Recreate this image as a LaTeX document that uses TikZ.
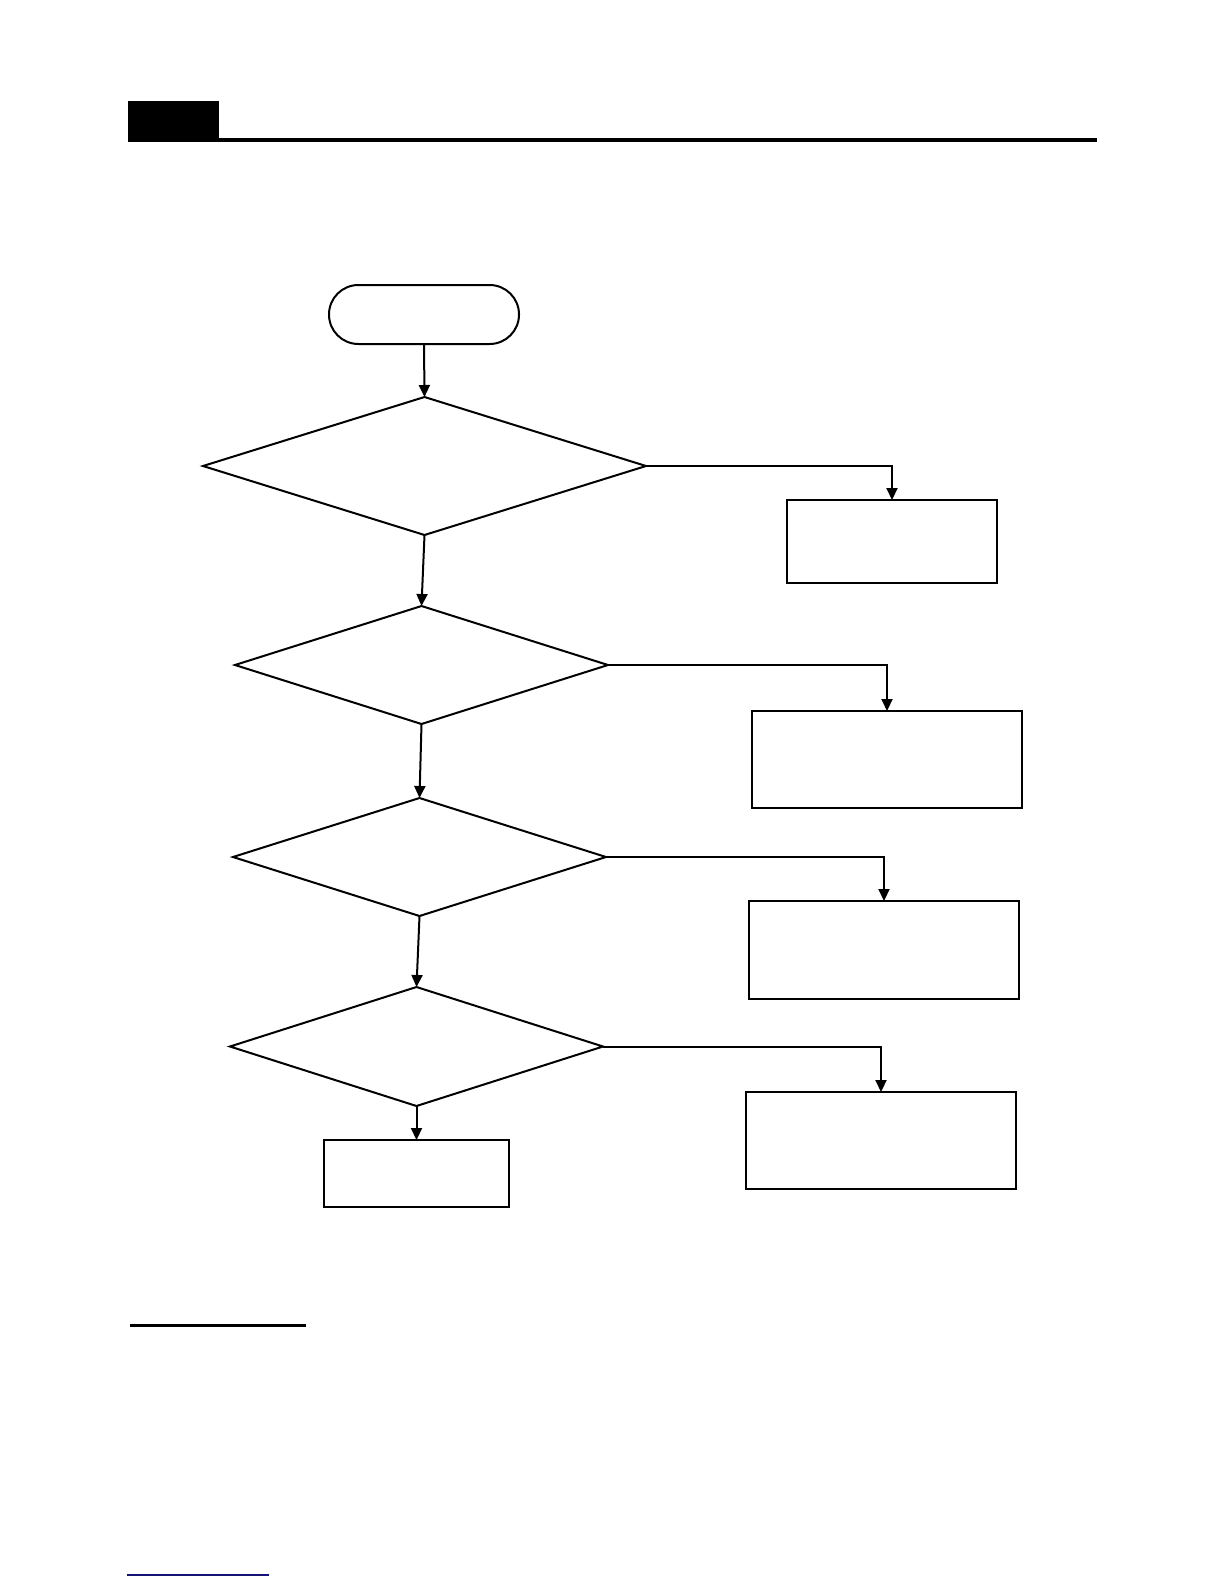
\documentclass[tikz,border=0pt]{standalone}
\usetikzlibrary{shapes.geometric,arrows.meta}
\definecolor{navyline}{RGB}{20,20,120}
\begin{document}
\begin{tikzpicture}[x=0.5pt,y=-0.5pt,
  every node/.style={line width=1pt,draw=black,inner sep=0pt,outer sep=0pt},
  boxnode/.style={rectangle},
  decision/.style={diamond},
  terminal/.style={rectangle,rounded corners=14.7pt},
  flow/.style={line width=1pt,-{Triangle[length=6pt,width=5.5pt]}}]
\useasboundingbox (0,0) rectangle (1224,1584);
% header
\fill[black] (128,101) rectangle (219,142);
\draw[line width=2pt] (219,140) -- (1097,140);
% nodes
\node[terminal,minimum width=95pt,minimum height=29.5pt] (start) at (424,314.5) {};
\node[decision,minimum width=221.5pt,minimum height=69pt] (d1) at (424.5,466) {};
\node[decision,minimum width=186.5pt,minimum height=59pt] (d2) at (421.5,665) {};
\node[decision,minimum width=186.5pt,minimum height=59pt] (d3) at (419.5,857) {};
\node[decision,minimum width=186.5pt,minimum height=59.5pt] (d4) at (416.5,1046.5) {};
\node[boxnode,minimum width=105pt,minimum height=41.5pt] (b1) at (892,541.5) {};
\node[boxnode,minimum width=135pt,minimum height=48.5pt] (b2) at (887,759.5) {};
\node[boxnode,minimum width=135pt,minimum height=49pt] (b3) at (884,950) {};
\node[boxnode,minimum width=135pt,minimum height=48.5pt] (b4) at (881,1140.5) {};
\node[boxnode,minimum width=92.5pt,minimum height=33.5pt] (b5) at (416.5,1173.5) {};
% connectors
\draw[flow] (start.south) -- (d1.north);
\draw[flow] (d1.south) -- (d2.north);
\draw[flow] (d2.south) -- (d3.north);
\draw[flow] (d3.south) -- (d4.north);
\draw[flow] (d4.south) -- (b5.north);
\draw[flow] (d1.east) -| (b1.north);
\draw[flow] (d2.east) -| (b2.north);
\draw[flow] (d3.east) -| (b3.north);
\draw[flow] (d4.east) -| (b4.north);
% footer lines
\draw[line width=1.5pt] (130,1325) -- (306,1325);
\draw[navyline,line width=0.6pt] (127,1575) -- (269,1575);
\end{tikzpicture}
\end{document}
